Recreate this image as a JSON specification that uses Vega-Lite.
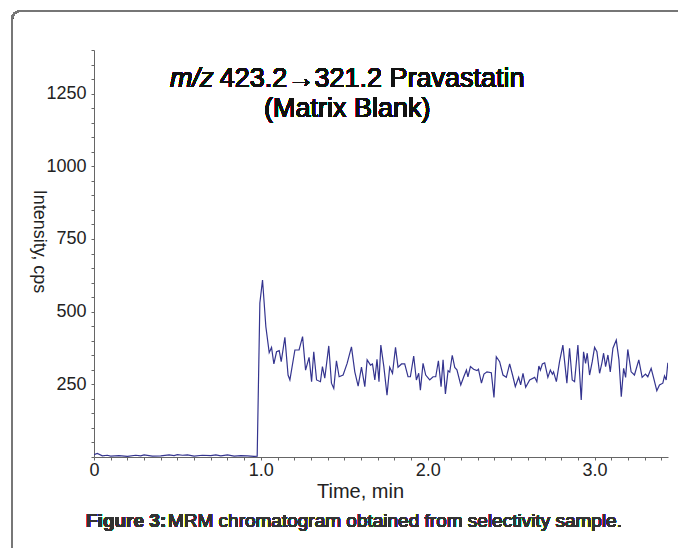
{
  "$schema": "https://vega.github.io/schema/vega-lite/v6.json",
  "autosize": {"type": "none"},
  "width": 574,
  "height": 407,
  "padding": {"left": 94, "top": 50, "right": 10, "bottom": 91},
  "background": "white",
  "config": {
    "view": {"stroke": null},
    "font": "Liberation Sans",
    "axis": {"grid": false, "labelFont": "Liberation Sans", "titleFont": "Liberation Sans", "labelColor": "#222", "titleColor": "#222", "domainColor": "#666", "tickColor": "#666", "titleFontWeight": "normal"}
  },
  "data": {
    "values": [
      {"t": 0.0, "v": 8}, {"t": 0.02, "v": 12}, {"t": 0.05, "v": 4}, {"t": 0.08, "v": 6}, {"t": 0.1, "v": 3},
      {"t": 0.15, "v": 5}, {"t": 0.2, "v": 2}, {"t": 0.25, "v": 6}, {"t": 0.28, "v": 4}, {"t": 0.3, "v": 7},
      {"t": 0.35, "v": 3}, {"t": 0.4, "v": 4}, {"t": 0.45, "v": 7}, {"t": 0.48, "v": 5}, {"t": 0.5, "v": 8},
      {"t": 0.53, "v": 6}, {"t": 0.56, "v": 7}, {"t": 0.6, "v": 3}, {"t": 0.65, "v": 6}, {"t": 0.7, "v": 5},
      {"t": 0.73, "v": 7}, {"t": 0.76, "v": 4}, {"t": 0.8, "v": 7}, {"t": 0.84, "v": 3}, {"t": 0.88, "v": 5},
      {"t": 0.92, "v": 4}, {"t": 0.96, "v": 2}, {"t": 0.978, "v": 3},
      {"t": 0.994, "v": 530}, {"t": 1.010, "v": 609}, {"t": 1.030, "v": 448}, {"t": 1.050, "v": 359},
      {"t": 1.064, "v": 377}, {"t": 1.078, "v": 320}, {"t": 1.094, "v": 362}, {"t": 1.110, "v": 366},
      {"t": 1.122, "v": 328}, {"t": 1.144, "v": 412}, {"t": 1.163, "v": 282}, {"t": 1.174, "v": 265},
      {"t": 1.204, "v": 368}, {"t": 1.229, "v": 368}, {"t": 1.250, "v": 414}, {"t": 1.268, "v": 299},
      {"t": 1.289, "v": 343}, {"t": 1.304, "v": 259}, {"t": 1.317, "v": 362}, {"t": 1.334, "v": 265},
      {"t": 1.357, "v": 259}, {"t": 1.369, "v": 311}, {"t": 1.383, "v": 271}, {"t": 1.407, "v": 382},
      {"t": 1.423, "v": 254}, {"t": 1.437, "v": 236}, {"t": 1.453, "v": 331}, {"t": 1.469, "v": 276},
      {"t": 1.493, "v": 282}, {"t": 1.517, "v": 322}, {"t": 1.543, "v": 379}, {"t": 1.563, "v": 293},
      {"t": 1.583, "v": 244}, {"t": 1.603, "v": 309}, {"t": 1.623, "v": 242}, {"t": 1.637, "v": 334},
      {"t": 1.657, "v": 316}, {"t": 1.669, "v": 320}, {"t": 1.683, "v": 265}, {"t": 1.696, "v": 336},
      {"t": 1.708, "v": 259}, {"t": 1.719, "v": 385}, {"t": 1.737, "v": 311}, {"t": 1.756, "v": 213},
      {"t": 1.772, "v": 309}, {"t": 1.789, "v": 288}, {"t": 1.807, "v": 377}, {"t": 1.822, "v": 309},
      {"t": 1.843, "v": 320}, {"t": 1.862, "v": 320}, {"t": 1.882, "v": 276}, {"t": 1.896, "v": 276},
      {"t": 1.916, "v": 347}, {"t": 1.932, "v": 265}, {"t": 1.946, "v": 288}, {"t": 1.956, "v": 230},
      {"t": 1.972, "v": 322}, {"t": 1.988, "v": 282}, {"t": 2.012, "v": 265}, {"t": 2.032, "v": 276},
      {"t": 2.048, "v": 276}, {"t": 2.064, "v": 331}, {"t": 2.080, "v": 242}, {"t": 2.092, "v": 334},
      {"t": 2.106, "v": 217}, {"t": 2.122, "v": 297}, {"t": 2.132, "v": 292}, {"t": 2.147, "v": 350},
      {"t": 2.162, "v": 308}, {"t": 2.175, "v": 300}, {"t": 2.198, "v": 248}, {"t": 2.216, "v": 276},
      {"t": 2.232, "v": 299}, {"t": 2.241, "v": 276}, {"t": 2.256, "v": 311}, {"t": 2.275, "v": 302},
      {"t": 2.295, "v": 297}, {"t": 2.304, "v": 302}, {"t": 2.322, "v": 254}, {"t": 2.337, "v": 285},
      {"t": 2.355, "v": 293}, {"t": 2.381, "v": 290}, {"t": 2.397, "v": 205}, {"t": 2.411, "v": 345},
      {"t": 2.431, "v": 328}, {"t": 2.451, "v": 282}, {"t": 2.471, "v": 274}, {"t": 2.491, "v": 320},
      {"t": 2.511, "v": 276}, {"t": 2.525, "v": 242}, {"t": 2.545, "v": 274}, {"t": 2.557, "v": 248},
      {"t": 2.571, "v": 288}, {"t": 2.587, "v": 240}, {"t": 2.611, "v": 265}, {"t": 2.641, "v": 274},
      {"t": 2.654, "v": 259}, {"t": 2.666, "v": 313}, {"t": 2.675, "v": 299}, {"t": 2.687, "v": 320},
      {"t": 2.701, "v": 324}, {"t": 2.720, "v": 274}, {"t": 2.735, "v": 299}, {"t": 2.747, "v": 285},
      {"t": 2.754, "v": 293}, {"t": 2.771, "v": 259}, {"t": 2.790, "v": 328}, {"t": 2.810, "v": 385},
      {"t": 2.834, "v": 254}, {"t": 2.850, "v": 374}, {"t": 2.866, "v": 265}, {"t": 2.880, "v": 259},
      {"t": 2.900, "v": 385}, {"t": 2.920, "v": 196}, {"t": 2.934, "v": 362}, {"t": 2.946, "v": 322},
      {"t": 2.956, "v": 357}, {"t": 2.970, "v": 282}, {"t": 2.986, "v": 328}, {"t": 3.000, "v": 377},
      {"t": 3.014, "v": 362}, {"t": 3.030, "v": 288}, {"t": 3.044, "v": 324}, {"t": 3.054, "v": 357},
      {"t": 3.066, "v": 311}, {"t": 3.080, "v": 351}, {"t": 3.094, "v": 293}, {"t": 3.110, "v": 374},
      {"t": 3.130, "v": 402}, {"t": 3.146, "v": 334}, {"t": 3.160, "v": 207}, {"t": 3.174, "v": 305},
      {"t": 3.186, "v": 274}, {"t": 3.199, "v": 370}, {"t": 3.219, "v": 293}, {"t": 3.239, "v": 282},
      {"t": 3.265, "v": 334}, {"t": 3.285, "v": 274}, {"t": 3.305, "v": 285}, {"t": 3.319, "v": 276},
      {"t": 3.339, "v": 305}, {"t": 3.353, "v": 274}, {"t": 3.373, "v": 228}, {"t": 3.389, "v": 248},
      {"t": 3.409, "v": 254}, {"t": 3.419, "v": 279}, {"t": 3.429, "v": 265}, {"t": 3.439, "v": 324}
    ]
  },
  "layer": [
    {
      "mark": {"type": "rect", "fill": null, "filled": false, "stroke": "#777", "strokeWidth": 1.5, "cornerRadius": 8},
      "encoding": {"x": {"datum": -0.491}, "x2": {"datum": 5}, "y": {"datum": 1534}, "y2": {"datum": -700}}
    },
    {
      "mark": {"type": "line", "color": "#34348f", "strokeWidth": 1.2, "clip": true},
      "encoding": {
        "x": {
          "field": "t", "type": "quantitative",
          "scale": {"domain": [0, 3.44], "nice": false, "zero": false},
          "axis": {
            "title": "Time, min", "titleFontSize": 20, "titleX": 266, "titleY": 34, "titleBaseline": "middle", "titleAnchor": null, "titleAlign": "center",
            "values": [0,0.1,0.2,0.3,0.4,0.5,0.6,0.7,0.8,0.9,1,1.1,1.2,1.3,1.4,1.5,1.6,1.7,1.8,1.9,2,2.1,2.2,2.3,2.4,2.5,2.6,2.7,2.8,2.9,3,3.1,3.2,3.3,3.4],
            "tickCount": 200,
            "labelExpr": "datum.value == 0 ? '0' : (abs(datum.value - round(datum.value)) < 0.001 ? format(datum.value, '.1f') : '')",
            "labelFontSize": 18, "labelPadding": 1, "tickSize": 3, "labelOverlap": false, "labelFlush": false
          }
        },
        "y": {
          "field": "v", "type": "quantitative",
          "scale": {"domain": [0, 1400], "nice": false},
          "axis": {
            "title": "Intensity, cps", "titleFontSize": 18, "titleAngle": 90, "titleX": -56, "titleY": 191, "titleAlign": "center", "titleBaseline": "middle", "titleAnchor": null,
            "values": [0,50,100,150,200,250,300,350,400,450,500,550,600,650,700,750,800,850,900,950,1000,1050,1100,1150,1200,1250,1300,1350,1400],
            "tickCount": 200,
            "labelExpr": "datum.value > 0 && datum.value % 250 == 0 ? datum.value : ''",
            "labelFontSize": 18, "labelPadding": 5, "tickSize": 3, "labelOverlap": false
          }
        }
      }
    },
    {
      "mark": {"type": "text", "text": "m/z", "fontStyle": "italic", "fontSize": 27, "align": "left", "baseline": "alphabetic", "color": "#111"},
      "encoding": {"x": {"datum": 0.455}, "y": {"datum": 1273}}
    },
    {
      "mark": {"type": "text", "text": "423.2→321.2 Pravastatin", "fontSize": 27, "align": "left", "baseline": "alphabetic", "color": "#111"},
      "encoding": {"x": {"datum": 0.754}, "y": {"datum": 1273}}
    },
    {
      "mark": {"type": "text", "text": "(Matrix Blank)", "fontSize": 27, "align": "center", "baseline": "alphabetic", "color": "#111"},
      "encoding": {"x": {"datum": 1.518}, "y": {"datum": 1168}}
    },
    {
      "mark": {"type": "text", "text": "Figure 3:", "fontWeight": "bold", "fontSize": 19, "align": "left", "baseline": "alphabetic", "color": "#333"},
      "encoding": {"x": {"datum": -0.048}, "y": {"datum": -241}}
    },
    {
      "mark": {"type": "text", "text": "MRM chromatogram obtained from selectivity sample.", "fontSize": 19, "align": "left", "baseline": "alphabetic", "color": "#333"},
      "encoding": {"x": {"datum": 0.443}, "y": {"datum": -241}}
    }
  ]
}
